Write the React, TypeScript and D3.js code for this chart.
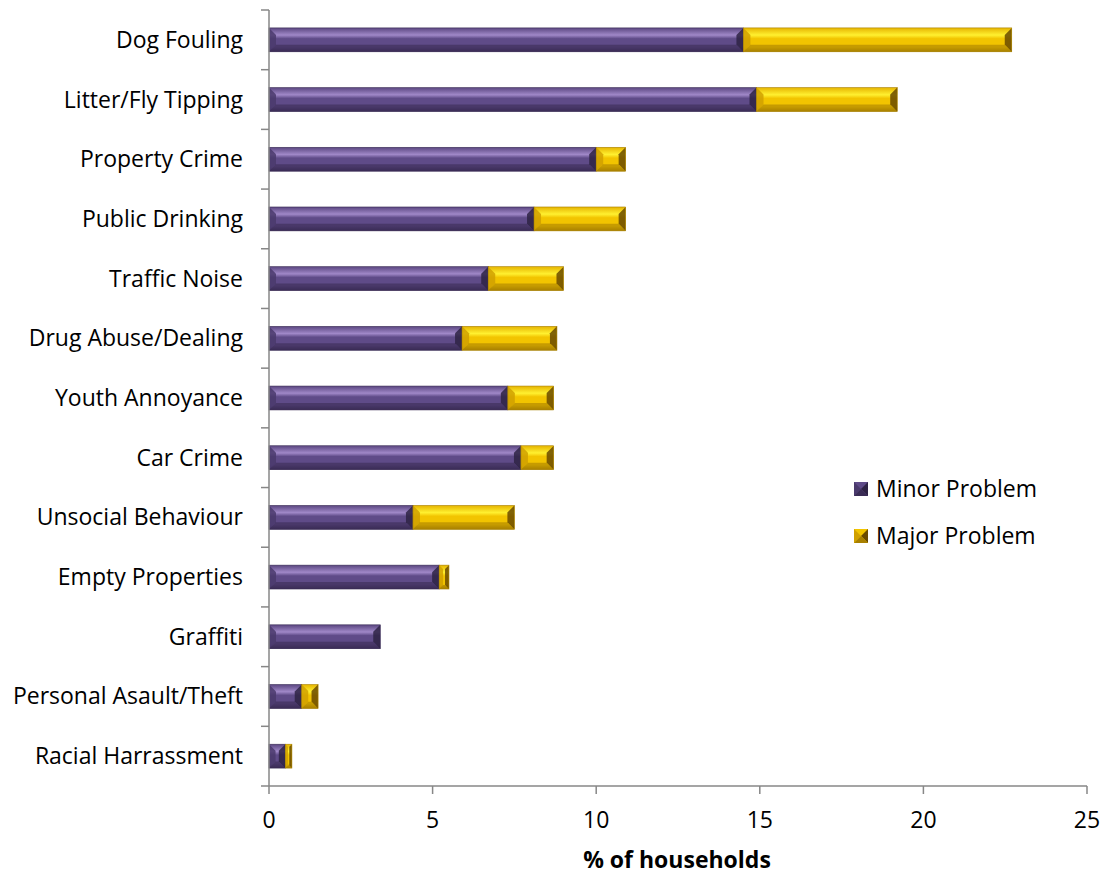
import React from "react";
import * as d3 from "d3";

const categories = [
  "Dog Fouling",
  "Litter/Fly Tipping",
  "Property Crime",
  "Public Drinking",
  "Traffic Noise",
  "Drug Abuse/Dealing",
  "Youth Annoyance",
  "Car Crime",
  "Unsocial Behaviour",
  "Empty Properties",
  "Graffiti",
  "Personal Asault/Theft",
  "Racial Harrassment",
];
const minorValues = [14.5, 14.9, 10.0, 8.1, 6.7, 5.9, 7.3, 7.7, 4.4, 5.2, 3.4, 1.0, 0.5];
const majorValues = [8.2, 4.3, 0.9, 2.8, 2.3, 2.9, 1.4, 1.0, 3.1, 0.3, 0.0, 0.5, 0.2];
const xTicks = [0, 5, 10, 15, 20, 25];
const seriesNames = ["Minor Problem", "Major Problem"];

const W = 1113;
const H = 876;
const margin = { left: 269, right: 26, top: 10, bottom: 90 };
const FONT = "'Open Sans', Lato, sans-serif";
const FS = 23;

type Pal = { top: string; hi: string; mid: string; bot: string; endL: string; endR: string; id: string };
const palettes: Pal[] = [
  { id: "minor", top: "#5a4680", hi: "#a088c8", mid: "#5f4b88", bot: "#3a2c55", endL: "#4a3a6c", endR: "#2e2344" },
  { id: "major", top: "#e6b400", hi: "#fff030", mid: "#f2c400", bot: "#a88000", endL: "#d0a000", endR: "#6a4a00" },
];

function Bar({ x, y, w, h, p }: { x: number; y: number; w: number; h: number; p: Pal }) {
  if (w <= 0) return null;
  const b = Math.min(7, w / 2.5, h / 3);
  return (
    <g>
      <rect x={x} y={y} width={w} height={h} fill={`url(#grad-${p.id})`} />
      <polygon points={`${x},${y} ${x + b},${y + b} ${x + b},${y + h - b} ${x},${y + h}`} fill={p.endL} opacity={0.85} />
      <polygon points={`${x + w},${y} ${x + w - b},${y + b} ${x + w - b},${y + h - b} ${x + w},${y + h}`} fill={p.endR} opacity={0.85} />
      <polygon points={`${x},${y + h} ${x + b},${y + h - b} ${x + w - b},${y + h - b} ${x + w},${y + h}`} fill={p.bot} opacity={0.6} />
      <rect x={x} y={y} width={w} height={h} fill="none" stroke={p.bot} strokeWidth={0.6} />
    </g>
  );
}

export default function App() {
  const x = d3.scaleLinear().domain([0, 25]).range([margin.left, W - margin.right]);
  const y = d3.scaleBand<string>().domain(categories).range([margin.top, H - margin.bottom]).paddingInner(0.6).paddingOuter(0.3);
  const yOuter = d3.scaleBand<string>().domain(categories).range([margin.top, H - margin.bottom]);
  const axisY = H - margin.bottom;
  const axisColor = "#878787";
  const bounds = categories.map((c) => yOuter(c)!).concat([axisY]);

  return (
    <svg width={W} height={H} style={{ position: "absolute", left: 0, top: 0, background: "#fff" }} fontFamily={FONT}>
      <defs>
        {palettes.map((p) => (
          <linearGradient key={p.id} id={`grad-${p.id}`} x1="0" y1="0" x2="0" y2="1">
            <stop offset="0" stopColor={p.top} />
            <stop offset="0.3" stopColor={p.hi} />
            <stop offset="0.45" stopColor={p.mid} />
            <stop offset="0.8" stopColor={p.mid} />
            <stop offset="1" stopColor={p.bot} />
          </linearGradient>
        ))}
      </defs>
      {categories.map((c, i) => {
        const by = y(c)!;
        const bh = y.bandwidth();
        const x0 = x(0);
        const x1 = x(minorValues[i]);
        const x2 = x(minorValues[i] + majorValues[i]);
        return (
          <g key={c}>
            <Bar x={x0} y={by} w={x1 - x0} h={bh} p={palettes[0]} />
            <Bar x={x1} y={by} w={x2 - x1} h={bh} p={palettes[1]} />
            <text x={243} y={by + bh / 2 - 1} textAnchor="end" dominantBaseline="central" fontSize={FS} fill="#000">
              {c}
            </text>
          </g>
        );
      })}
      <line x1={x(0)} x2={x(0)} y1={margin.top} y2={axisY} stroke={axisColor} strokeWidth={1.5} />
      {bounds.map((b, i) => (
        <line key={i} x1={x(0) - 8} x2={x(0)} y1={b} y2={b} stroke={axisColor} strokeWidth={1.5} />
      ))}
      <line x1={x(0)} x2={x(25)} y1={axisY} y2={axisY} stroke={axisColor} strokeWidth={1.5} />
      {xTicks.map((t) => (
        <g key={t}>
          <line x1={x(t)} x2={x(t)} y1={axisY} y2={axisY + 8} stroke={axisColor} strokeWidth={1.5} />
          <text x={x(t)} y={axisY + 42} textAnchor="middle" fontSize={FS} fill="#000">
            {t}
          </text>
        </g>
      ))}
      <text x={677} y={868} textAnchor="middle" fontSize={FS} fontWeight="bold" fill="#000">
        % of households
      </text>
      {seriesNames.map((s, i) => {
        const ly = 489 + i * 47;
        const p = palettes[i];
        return (
          <g key={s}>
            <rect x={854} y={ly - 7} width={14} height={14} fill={p.mid} />
            <polygon points={`${854},${ly - 7} ${861},${ly} ${854},${ly + 7}`} fill={p.endL} />
            <polygon points={`${868},${ly - 7} ${861},${ly} ${868},${ly + 7}`} fill={p.endR} />
            <polygon points={`${854},${ly + 7} ${861},${ly} ${868},${ly + 7}`} fill={p.bot} />
            <text x={876} y={ly - 1} dominantBaseline="central" fontSize={FS} fill="#000">
              {s}
            </text>
          </g>
        );
      })}
    </svg>
  );
}
